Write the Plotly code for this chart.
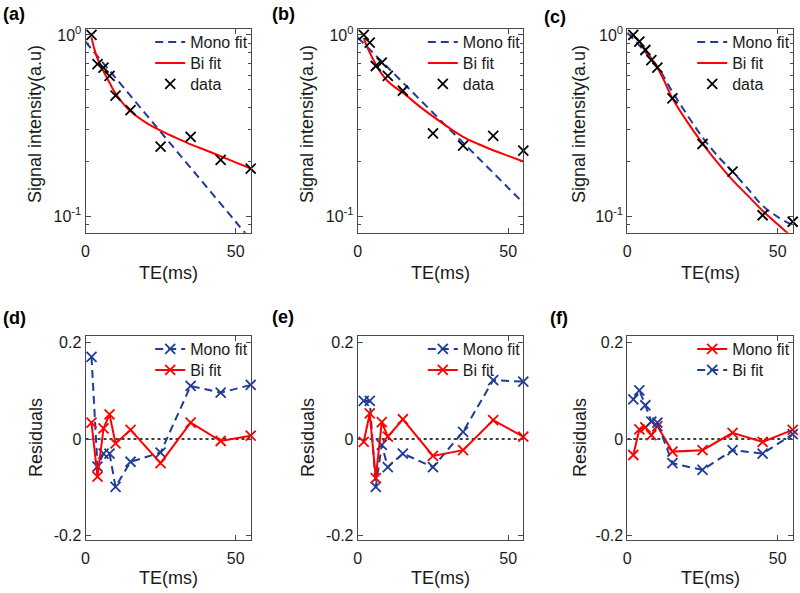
import plotly.graph_objects as go

# ---------------- data ----------------
TE = [2, 4, 6, 8, 10, 15, 25, 35, 45, 55]

data_a = [1.0, 0.69, 0.66, 0.594, 0.462, 0.385, 0.242, 0.274, 0.204, 0.183]
data_b = [1.0, 0.907, 0.674, 0.703, 0.594, 0.492, 0.286, 0.245, 0.277, 0.230]
data_c = [1.0, 0.918, 0.826, 0.727, 0.66, 0.447, 0.25, 0.176, 0.101, 0.093]

TE_mono_ab = [0, 10, 20, 30, 40, 50, 55]
mono_a = [0.918, 0.58, 0.367, 0.232, 0.147, 0.093, 0.074]
mono_b = [0.97, 0.661, 0.451, 0.307, 0.210, 0.143, 0.118]

TE_mono_c = [0, 5, 10, 15, 20, 25, 30, 35, 40, 45, 50, 55]
mono_c = [1.03, 0.84, 0.67, 0.485, 0.36, 0.272, 0.215, 0.176, 0.142, 0.114, 0.099, 0.089]

TE_bi_ab = [2, 3, 4, 5, 6, 7, 8, 9, 10, 12, 15, 20, 25, 30, 35, 40, 45, 50, 55]
bi_a = [0.97, 0.83, 0.74, 0.68, 0.63, 0.585, 0.545, 0.507, 0.476, 0.429, 0.379,
        0.329, 0.296, 0.271, 0.249, 0.231, 0.214, 0.198, 0.183]
bi_b = [0.96, 0.87, 0.80, 0.74, 0.69, 0.645, 0.61, 0.58, 0.555, 0.52, 0.48,
        0.41, 0.355, 0.31, 0.274, 0.25, 0.231, 0.215, 0.20]

TE_bi_c = [2, 4, 6, 8, 10, 12, 15, 20, 25, 30, 35, 40, 45, 50, 55]
bi_c = [0.99, 0.92, 0.83, 0.74, 0.66, 0.57, 0.447, 0.33, 0.252, 0.197, 0.158,
        0.13, 0.107, 0.09, 0.076]

res_d_mono = [0.170, -0.057, -0.030, -0.030, -0.099, -0.047, -0.028, 0.110, 0.096, 0.112]
res_d_bi = [0.034, -0.078, 0.022, 0.051, -0.009, 0.019, -0.050, 0.034, -0.004, 0.007]
res_e_mono = [0.079, 0.079, -0.099, -0.012, -0.058, -0.030, -0.058, 0.015, 0.122, 0.119]
res_e_bi = [-0.006, 0.053, -0.081, 0.035, 0.005, 0.041, -0.035, -0.023, 0.039, 0.005]
res_f_red = [-0.033, 0.020, 0.024, 0.008, 0.027, -0.026, -0.023, 0.013, -0.006, 0.019]
res_f_blue = [0.082, 0.101, 0.070, 0.036, 0.034, -0.050, -0.064, -0.023, -0.030, 0.010]

zero_x = [0, 55]
zero_y = [0, 0]

x_ticks = [0, 50]
log_ticks = [0.1, 1]
log_tick_text = ["10<sup>-1</sup>", "10<sup>0</sup>"]
log_minor = [0.09, 0.2, 0.3, 0.4, 0.5, 0.6, 0.7, 0.8, 0.9]
res_ticks = [-0.2, 0, 0.2]
res_tick_text = ["-0.2", "0", "0.2"]

panel_labels = ["(a)", "(b)", "(c)", "(d)", "(e)", "(f)"]

# ---------------- styling / layout ----------------
W, H = 800, 593
BLUE = "#1f3c96"
RED = "#ff0000"
AX = "#4a4a4a"
TXT = "#1a1a1a"
FONT = "Arial, Liberation Sans, sans-serif"
DASH = "8px,5px"


def fx(p):
    return p / W


def fy(p):
    return 1 - p / H


xcols = [(85.5, 250.7), (357.7, 523.3), (627.3, 792.7)]
rows = [(29, 232.7), (335.7, 540)]
legend_rows_top = [42, 63, 84]
legend_rows_bot = [349, 370]

fig = go.Figure()
MK_SIZE = 10
layout_legends = {}
legend_counter = [0]


def new_legend(text_x, row_y):
    legend_counter[0] += 1
    n = legend_counter[0]
    name = "legend" if n == 1 else "legend" + str(n)
    layout_legends[name] = dict(x=fx(text_x - 37), xanchor="left", y=fy(row_y),
                                yanchor="middle", bgcolor="rgba(0,0,0,0)", borderwidth=0,
                                font=dict(size=16, color=TXT), itemwidth=30)
    return name


def axn(i):
    s = "" if i == 1 else str(i)
    return "x" + s, "y" + s


# top row
tops = [(data_a, mono_a, TE_mono_ab, bi_a, TE_bi_ab),
        (data_b, mono_b, TE_mono_ab, bi_b, TE_bi_ab),
        (data_c, mono_c, TE_mono_c, bi_c, TE_bi_c)]
for k, (dat, mono, tm, bi, tb) in enumerate(tops):
    xa, ya = axn(k + 1)
    tx = xcols[k][1] - 63.5
    fig.add_trace(go.Scatter(x=tm, y=mono, mode="lines", name="Mono fit",
                             line=dict(color=BLUE, width=2, dash=DASH, shape="spline"),
                             xaxis=xa, yaxis=ya, legend=new_legend(tx, legend_rows_top[0])))
    fig.add_trace(go.Scatter(x=tb, y=bi, mode="lines", name="Bi fit",
                             line=dict(color=RED, width=2, shape="spline"),
                             xaxis=xa, yaxis=ya, legend=new_legend(tx, legend_rows_top[1])))
    fig.add_trace(go.Scatter(x=TE, y=dat, mode="markers", name="data",
                             marker=dict(symbol="x-thin", size=MK_SIZE, color="black",
                                         line=dict(width=1.8, color="black")),
                             xaxis=xa, yaxis=ya, cliponaxis=False,
                             legend=new_legend(tx, legend_rows_top[2])))

# bottom row
bots = [(("Mono fit", res_d_mono, BLUE, DASH), ("Bi fit", res_d_bi, RED, "solid")),
        (("Mono fit", res_e_mono, BLUE, DASH), ("Bi fit", res_e_bi, RED, "solid")),
        (("Mono fit", res_f_red, RED, "solid"), ("Bi fit", res_f_blue, BLUE, DASH))]
for k, series in enumerate(bots):
    xa, ya = axn(k + 4)
    tx = xcols[k][1] - 63.5
    fig.add_trace(go.Scatter(x=zero_x, y=zero_y, mode="lines", showlegend=False,
                             line=dict(color="black", width=1.5, dash="dot"),
                             xaxis=xa, yaxis=ya))
    for j, (name, vals, col, dash) in enumerate(series):
        fig.add_trace(go.Scatter(x=TE, y=vals, mode="lines+markers", name=name,
                                 line=dict(color=col, width=2, dash=dash),
                                 marker=dict(symbol="x-thin", size=MK_SIZE, color=col,
                                             line=dict(width=1.8, color=col)),
                                 xaxis=xa, yaxis=ya, cliponaxis=False,
                                 legend=new_legend(tx, legend_rows_bot[j])))

layout = dict(width=W, height=H, margin=dict(l=0, r=0, t=0, b=0, autoexpand=False),
              paper_bgcolor="white", plot_bgcolor="white",
              font=dict(family=FONT, size=16, color=TXT))
layout.update(layout_legends)

common_x = dict(range=[0, 55], tickvals=x_ticks, ticks="inside", ticklen=5,
                tickcolor=AX, showline=True, linecolor=AX, linewidth=1,
                mirror="ticks", showgrid=False, zeroline=False,
                tickfont=dict(size=16, color=TXT), ticklabelstandoff=4)

for i in range(6):
    r = 0 if i < 3 else 1
    c = i % 3
    s = "" if i == 0 else str(i + 1)
    x0, x1 = xcols[c]
    y0, y1 = rows[r]
    layout["xaxis" + s] = dict(common_x, domain=[fx(x0), fx(x1)], anchor="y" + s)
    if r == 0:
        layout["yaxis" + s] = dict(type="log", range=[-1.092, 0.033],
                                   tickvals=log_ticks, ticktext=log_tick_text,
                                   ticks="inside", ticklen=5, tickcolor=AX,
                                   minor=dict(tickvals=log_minor, ticks="inside", ticklen=3,
                                              tickcolor=AX, showgrid=False),
                                   showline=True, linecolor=AX, linewidth=1, mirror="ticks",
                                   showgrid=False, zeroline=False,
                                   tickfont=dict(size=16, color=TXT),
                                   domain=[fy(y1), fy(y0)], anchor="x" + s)
    else:
        layout["yaxis" + s] = dict(range=[-0.209, 0.214], tickvals=res_ticks,
                                   ticktext=res_tick_text,
                                   ticks="inside", ticklen=5, tickcolor=AX,
                                   showline=True, linecolor=AX, linewidth=1, mirror="ticks",
                                   showgrid=False, zeroline=False,
                                   tickfont=dict(size=16, color=TXT),
                                   domain=[fy(y1), fy(y0)], anchor="x" + s)

fig.update_layout(**layout)

ann = []
lab_pos = [(1, 14), (270, 14), (542, 17), (1, 318), (270, 317), (548, 318)]
for t, (px, py) in zip(panel_labels, lab_pos):
    ann.append(dict(text="<b>" + t + "</b>", x=fx(px), y=fy(py), xref="paper", yref="paper",
                    xanchor="left", yanchor="middle", showarrow=False,
                    font=dict(size=18, color="black")))
for c, (x0, x1) in enumerate(xcols):
    cx = (x0 + x1) / 2
    for yy in (273, 578):
        ann.append(dict(text="TE(ms)", x=fx(cx), y=fy(yy), xref="paper", yref="paper",
                        xanchor="center", yanchor="middle", showarrow=False,
                        font=dict(size=18, color=TXT)))
ylab_x = [35, 307, 579]
for c in range(3):
    ann.append(dict(text="Signal intensity(a.u)", x=fx(ylab_x[c]), y=fy(124),
                    xref="paper", yref="paper", textangle=-90,
                    xanchor="center", yanchor="middle", showarrow=False,
                    font=dict(size=18, color=TXT)))
    ann.append(dict(text="Residuals", x=fx(ylab_x[c] + 1), y=fy(438),
                    xref="paper", yref="paper", textangle=-90,
                    xanchor="center", yanchor="middle", showarrow=False,
                    font=dict(size=18, color=TXT)))
fig.update_layout(annotations=ann)

fig.write_html("out.html", config={"displayModeBar": False},
               post_script="document.body.style.margin='0';document.body.style.padding='0';")
